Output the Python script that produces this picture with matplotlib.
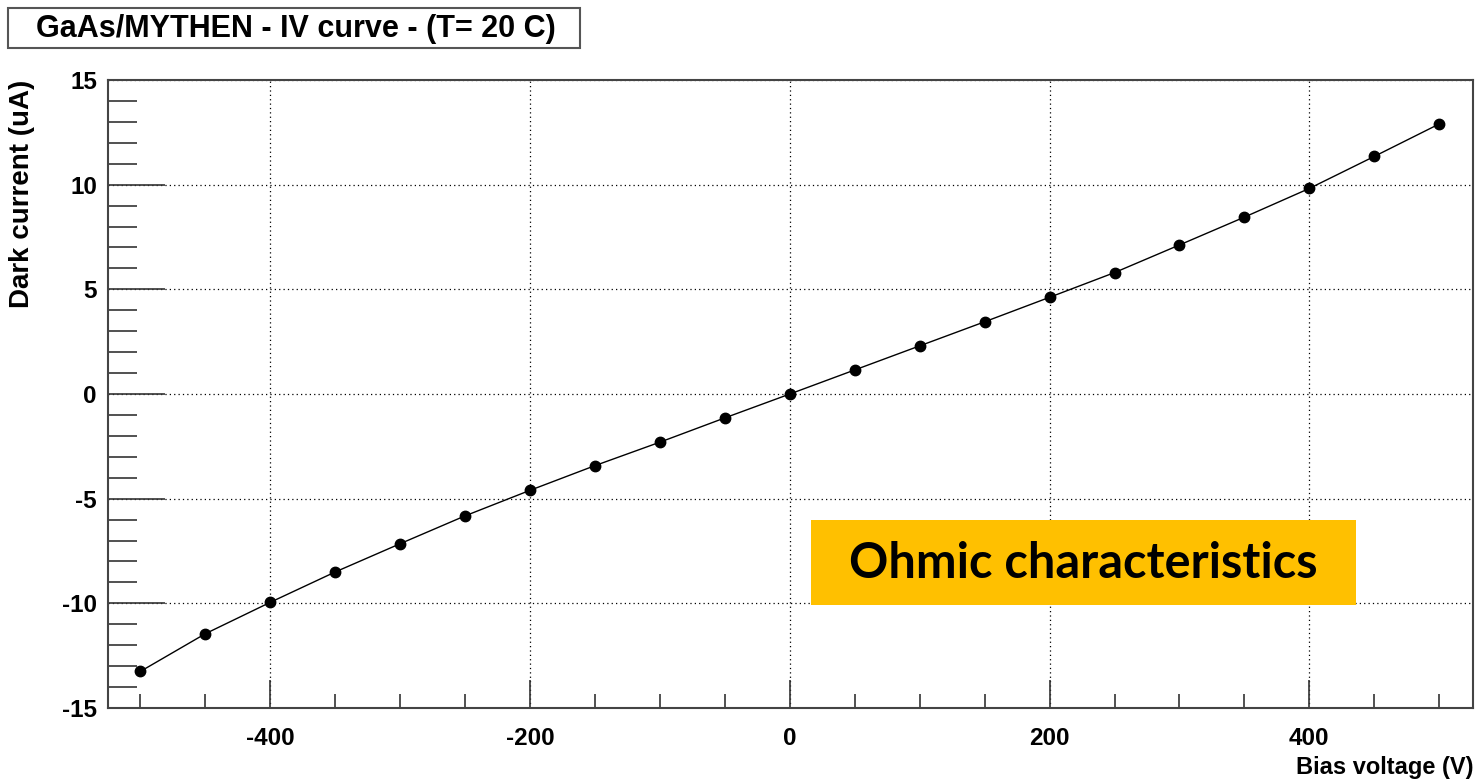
import matplotlib
matplotlib.use("Agg")
import matplotlib.pyplot as plt
from matplotlib.patches import Rectangle
from matplotlib.ticker import MultipleLocator

plt.rcParams["axes.unicode_minus"] = False

# IV scan of the GaAs sensor, bias in V, dark current in uA
bias = [-500, -450, -400, -350, -300, -250, -200, -150, -100, -50, 0,
        50, 100, 150, 200, 250, 300, 350, 400, 450, 500]
current = [-13.25, -11.45, -9.95, -8.5, -7.15, -5.82, -4.6, -3.42, -2.3, -1.14, 0.0,
           1.15, 2.3, 3.45, 4.62, 5.8, 7.12, 8.45, 9.82, 11.35, 12.9]

title = "GaAs/MYTHEN - IV curve - (T= 20 C)"
note = "Ohmic characteristics"

W, H = 1477, 784
fig = plt.figure(figsize=(W/100, H/100), dpi=100)
ax = fig.add_axes([108/W, 1-708/H, (1473-108)/W, (708-80)/H])

ax.plot(bias, current, color="black", lw=1.0, marker="o", ms=7.5, mfc="black", mec="black")

ax.set_xlim(-525, 526)
ax.set_ylim(-15, 15)
ax.xaxis.set_major_locator(MultipleLocator(200))
ax.xaxis.set_minor_locator(MultipleLocator(50))
ax.yaxis.set_major_locator(MultipleLocator(5))
ax.yaxis.set_minor_locator(MultipleLocator(1))

ax.grid(True, which="major", color="black", ls=(0, (1, 2.5)), lw=0.9)
ax.tick_params(which="both", direction="in", color="#333333", width=1.2)
ax.tick_params(axis="x", which="major", length=20, pad=14, labelsize=17.5)
ax.tick_params(axis="x", which="minor", length=10)
ax.tick_params(axis="y", which="major", length=41, pad=8, labelsize=17.5)
ax.tick_params(axis="y", which="minor", length=21)
for lab in ax.get_xticklabels() + ax.get_yticklabels():
    lab.set_fontweight("bold")
    lab.set_fontfamily("Liberation Sans")
for sp in ax.spines.values():
    sp.set_color("#444444")
    sp.set_linewidth(1.5)

ax.set_xlabel("Bias voltage (V)", fontsize=17, fontweight="bold", family="Liberation Sans")
ax.xaxis.set_label_coords(1.0, -0.0955)
ax.xaxis.label.set_ha("right")
ax.xaxis.label.set_va("center")
ax.set_ylabel("Dark current (uA)", fontsize=20, fontweight="bold", family="Liberation Sans")
ax.yaxis.set_label_coords(-0.063, 1.0)
ax.yaxis.label.set_ha("right")
ax.yaxis.label.set_va("center")

# title box, top left
fig.add_artist(Rectangle((8/W, 1-48/H), 572/W, 40/H, transform=fig.transFigure,
                         fc="white", ec="#555555", lw=1.5))
fig.text(296/W, 1-29/H, title, ha="center", va="center", fontsize=22,
         fontweight="bold", family="Liberation Sans")

# annotation box
fig.add_artist(Rectangle((811/W, 1-605/H), 545/W, 85/H, transform=fig.transFigure,
                         fc="#FFC000", ec="none"))
fig.text(1083/W, 1-563/H, note, ha="center", va="center", fontsize=35,
         fontweight="bold", family="Lato")

fig.savefig("out.png", dpi=100)
